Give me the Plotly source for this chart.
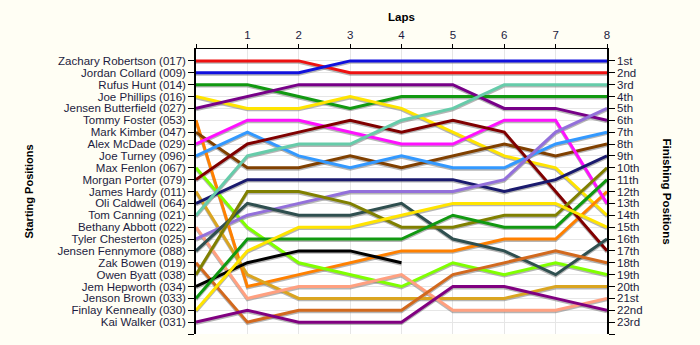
import plotly.graph_objects as go

laps = [0, 1, 2, 3, 4, 5, 6, 7, 8]
lap_labels = ["", "1", "2", "3", "4", "5", "6", "7", "8"]

drivers = [
    "Zachary Robertson (017)", "Jordan Collard (009)", "Rufus Hunt (014)",
    "Joe Phillips (016)", "Jensen Butterfield (027)", "Tommy Foster (053)",
    "Mark Kimber (047)", "Alex McDade (029)", "Joe Turney (096)",
    "Max Fenlon (067)", "Morgan Porter (079)", "James Hardy (011)",
    "Oli Caldwell (064)", "Tom Canning (021)", "Bethany Abbott (022)",
    "Tyler Chesterton (025)", "Jensen Fennymore (088)", "Zak Bowen (019)",
    "Owen Byatt (038)", "Jem Hepworth (034)", "Jenson Brown (033)",
    "Finlay Kenneally (030)", "Kai Walker (031)",
]

finish_labels = ["1st", "2nd", "3rd", "4th", "5th", "6th", "7th", "8th", "9th",
                 "10th", "11th", "12th", "13th", "14th", "15th", "16th", "17th",
                 "18th", "19th", "20th", "21st", "22nd", "23rd"]

# position of each driver at laps 0..8 (None = retired)
lap_positions = [
    [1, 1, 1, 2, 2, 2, 2, 2, 2],
    [2, 2, 2, 1, 1, 1, 1, 1, 1],
    [3, 3, 4, 5, 4, 4, 4, 4, 4],
    [4, 5, 5, 4, 5, 7, 9, 10, 14],
    [5, 4, 3, 3, 3, 3, 5, 5, 6],
    [6, 20, 19, 18, 17, 17, 16, 16, 12],
    [7, 10, 10, 9, 10, 9, 8, 9, 8],
    [8, 6, 6, 7, 8, 8, 6, 6, 13],
    [9, 7, 9, 10, 9, 10, 10, 8, 7],
    [10, 15, 18, 19, 20, 18, 19, 18, 19],
    [11, 8, 7, 6, 7, 6, 7, 12, 17],
    [12, 19, 21, 21, 21, 21, 21, 20, 20],
    [13, 11, 11, 11, 11, 11, 12, 11, 9],
    [14, 9, 8, 8, 6, 5, 3, 3, 3],
    [15, 21, 20, 20, 19, 22, 22, 22, 21],
    [16, 14, 13, 12, 12, 12, 11, 7, 5],
    [17, 13, 14, 14, 13, 16, 17, 19, 16],
    [18, 23, 22, 22, 22, 19, 18, 17, 18],
    [19, 12, 12, 13, 15, 15, 14, 14, 10],
    [20, 18, 17, 17, 18, None, None, None, None],
    [21, 16, 16, 16, 16, 14, 15, 15, 11],
    [22, 17, 15, 15, 14, 13, 13, 13, 15],
    [23, 22, 23, 23, 23, 20, 20, 21, 22],
]

colors = [
    "#EE1111", "#1111DD", "#119911", "#FFE400", "#770088", "#FF8000",
    "#804000", "#FF11FF", "#3399FF", "#80FF00", "#800000", "#DAA520",
    "#1A1A6E", "#66CCAA", "#FFA080", "#9370DB", "#2F4F4F", "#D2691E",
    "#808000", "#000000", "#119911", "#FFE400", "#800080",
]

fig = go.Figure()

# shadows
for pos in lap_positions:
    fig.add_trace(go.Scatter(
        x=laps, y=[None if p is None else p + 0.12 for p in pos],
        mode="lines", line=dict(color="rgba(120,120,120,0.55)", width=3),
        hoverinfo="skip", showlegend=False))

for name, pos, col in zip(drivers, lap_positions, colors):
    fig.add_trace(go.Scatter(
        x=laps, y=pos, mode="lines", name=name,
        line=dict(color=col, width=3), showlegend=False))

# invisible trace for right axis
fig.add_trace(go.Scatter(x=[0], y=[1], yaxis="y2", mode="markers",
                         marker=dict(opacity=0), hoverinfo="skip",
                         showlegend=False))

n = len(drivers)
yrange = [n + 1, 0]
tick_font = dict(family="Liberation Sans, Arial, sans-serif", size=11.5, color="#1c1c40")
title_font = dict(family="Liberation Sans, Arial, sans-serif", size=11.5, color="black")

fig.update_layout(
    width=700, height=345,
    margin=dict(l=196, r=93, t=49, b=11),
    paper_bgcolor="#FFFEF4",
    plot_bgcolor="#FFFFFF",
    xaxis=dict(
        range=[0, 8], side="top", tickvals=laps, ticktext=lap_labels,
        showgrid=True, gridcolor="#E6E6E6", gridwidth=1, zeroline=False,
        showline=True, linecolor="black", linewidth=1.2,
        ticks="outside", ticklen=4, tickcolor="black", tickfont=tick_font,
    ),
    yaxis=dict(
        range=yrange, tickvals=list(range(1, n + 2)),
        ticktext=drivers + [""],
        showgrid=True, gridcolor="#E6E6E6", gridwidth=1, zeroline=False,
        showline=True, linecolor="black", linewidth=1.5,
        ticks="outside", ticklen=6, tickcolor="black", tickfont=tick_font,
    ),
    yaxis2=dict(
        range=yrange, overlaying="y", side="right",
        tickvals=list(range(1, n + 2)), ticktext=finish_labels + [""],
        showgrid=False, zeroline=False,
        showline=True, linecolor="black", linewidth=1.5,
        ticks="outside", ticklen=6, tickcolor="black", tickfont=tick_font,
    ),
    annotations=[
        dict(text="<b>Laps</b>", x=0.5, y=(334 - 17) / 285, xref="paper", yref="paper",
             yanchor="middle", showarrow=False, font=title_font),
        dict(text="<b>Starting Positions</b>", x=(28 - 196) / 411, y=0.5,
             xref="paper", yref="paper", xanchor="center", yanchor="middle",
             showarrow=False, textangle=-90, font=dict(title_font, size=11)),
        dict(text="<b>Finishing Positions</b>", x=(667 - 196) / 411, y=0.5,
             xref="paper", yref="paper", xanchor="center", yanchor="middle",
             showarrow=False, textangle=90, font=title_font),
    ],
)

fig.write_html("out.html")
